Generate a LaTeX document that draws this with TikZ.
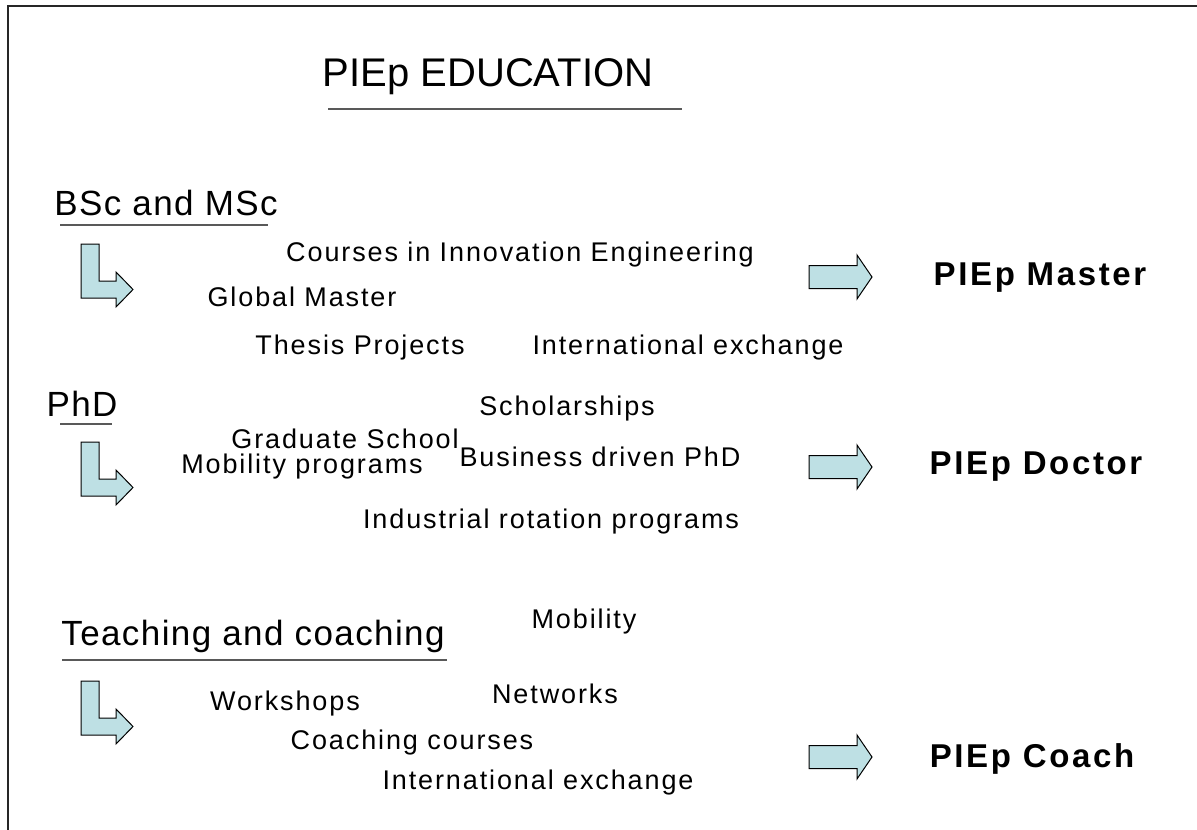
\documentclass[tikz,border=0pt]{standalone}
\usepackage{fontspec}
\setmainfont{Liberation Sans}
\definecolor{arrowfill}{RGB}{190,224,228}
\begin{document}
\begin{tikzpicture}[x=1pt,y=-1pt,
    txt/.style={inner sep=0pt,font=\fontsize{27}{32}\selectfont\addfontfeature{LetterSpace=7}},
    head/.style={inner sep=0pt,font=\fontsize{35}{42}\selectfont\addfontfeature{LetterSpace=4}},
    goal/.style={inner sep=0pt,font=\fontsize{33}{40}\selectfont\bfseries\addfontfeature{LetterSpace=8}},
    uline/.style={draw=black!65,line width=1.5pt},
    bentarrow/.pic={\draw[fill=arrowfill,line width=1pt,line join=miter] (0,0) -- (18,0) -- (18,37) -- (35,37) -- (35,28) -- (52,45.5) -- (35,63) -- (35,54) -- (0,54) -- cycle;},
    rightarrow/.pic={\draw[fill=arrowfill,line width=1pt,line join=miter] (0,-11.5) -- (48,-11.5) -- (48,-22) -- (63,0) -- (48,22) -- (48,11.5) -- (0,11.5) -- cycle;}]
  \useasboundingbox (0,0) rectangle (1197,830);
  \draw[line width=2pt,black!85] (8,830) -- (8,6) -- (1197,6);
  % title
  \node[inner sep=0pt,font=\fontsize{40}{48}\selectfont] (title) at (488,77) {PIEp EDUCATION};
  \draw[uline] (328,109) -- (682,109);
  % BSc and MSc
  \node[head] (bsc) at (166,203) {BSc and MSc};
  \draw[uline] (60,225) -- (268,225);
  \pic at (81,244) {bentarrow};
  \node[txt] (courses) at (520,255) {Courses in Innovation Engineering};
  \node[txt] (global) at (302,297) {Global Master};
  \node[txt] (thesis) at (360,348) {Thesis Projects};
  \node[txt] (exchA) at (688,348) {International exchange};
  \pic at (809,277) {rightarrow};
  \node[goal] (master) at (1040,278) {PIEp Master};
  % PhD
  \node[head] (phd) at (82,404) {PhD};
  \draw[uline] (60,424) -- (112,424);
  \pic at (81,442) {bentarrow};
  \node[txt] (schol) at (567,409) {Scholarships};
  \node[txt] (grad) at (345,439) {Graduate School};
  \node[txt] (mobprog) at (302,467) {Mobility programs};
  \node[txt] (business) at (600,457) {Business driven PhD};
  \node[txt] (rotation) at (551,522) {Industrial rotation programs};
  \pic at (809,467) {rightarrow};
  \node[goal] (doctor) at (1036,467) {PIEp Doctor};
  % Teaching and coaching
  \node[head] (teach) at (253,636) {Teaching and coaching};
  \draw[uline] (62,660) -- (447,660);
  \pic at (81,681) {bentarrow};
  \node[txt] (mobility) at (584,622) {Mobility};
  \node[txt] (networks) at (555,694) {Networks};
  \node[txt] (workshops) at (285,704) {Workshops};
  \node[txt] (coachc) at (412,743) {Coaching courses};
  \node[txt] (exchB) at (538,783) {International exchange};
  \pic at (809,757) {rightarrow};
  \node[goal] (coach) at (1032,759) {PIEp Coach};
\end{tikzpicture}
\end{document}
